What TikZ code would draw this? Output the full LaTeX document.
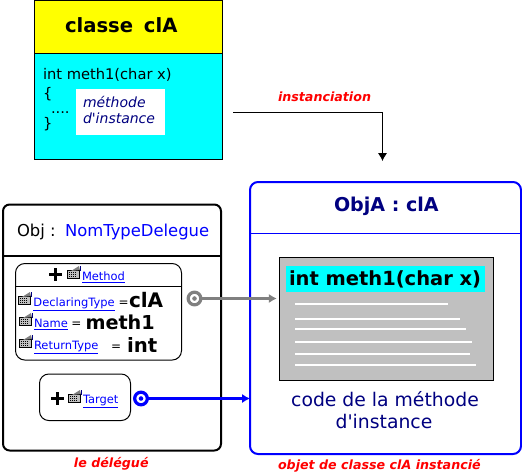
\documentclass[tikz,border=0pt]{standalone}
\usepackage{fontspec}
\setmainfont{DejaVu Sans}[Ligatures=TeXOff]
\usetikzlibrary{arrows.meta}
\definecolor{navyc}{HTML}{000080}
\definecolor{greyc}{HTML}{808080}
\definecolor{silverc}{HTML}{C0C0C0}
\definecolor{cyanc}{HTML}{00FFFF}
\definecolor{yellowc}{HTML}{FFFF00}
\definecolor{bluec}{HTML}{0000FF}
\definecolor{redc}{HTML}{FF0000}
\newcommand{\fs}[1]{\fontsize{#1}{#1}\selectfont}
\tikzset{
  x=0.75pt,y=-0.75pt,outer sep=0pt,
  lbl/.style={inner sep=0pt,anchor=base west,font=\fs{#1}},
  lblc/.style={inner sep=0pt,anchor=base,font=\fs{#1}},
  lnk/.style={inner sep=0pt,anchor=base west,text=bluec,font=\fs{8.6}},
  boldtxt/.style={inner sep=0pt,anchor=base west,font=\fs{#1}\bfseries},
  redcap/.style={inner sep=0pt,anchor=base west,text=redc,font=\fs{#1}\bfseries\itshape},
  whiteline/.style={draw=white,line width=1pt},
  frameblack/.style={draw=black,line width=1.5pt,rounded corners=5pt},
  smallbox/.style={draw=black,line width=0.75pt,rounded corners=7pt},
  plusmark/.pic={\draw[line width=2.2pt] (-6.5,0) -- (6.5,0) (0,-6.5) -- (0,6.5);},
  iconmark/.pic={
    \fill[silverc] (0.5,4) rectangle (12,12);
    \draw[black,line width=0.75pt] (0.5,4) rectangle (12,12);
    \draw[black,line width=0.5pt,dash pattern=on 0.75pt off 0.75pt] (2,6) -- (10,6) (2,8) -- (10,8) (2,10) -- (10,10);
    \fill[greyc] (4,5) -- (12,0) -- (13,4) -- cycle;
    \fill[navyc] (12.5,0) rectangle (14,5);
  },
  conn/.style={line width=#1,-{Latex[length=6pt,width=7pt]}},
  ringmark/.style={circle,draw=#1,line width=2.4pt,minimum size=9.5pt,inner sep=0pt,
    path picture={\fill[#1] (path picture bounding box.center) circle (1.7pt);}},
}
\begin{document}
\begin{tikzpicture}
\useasboundingbox (0,0) rectangle (522,472);
% class box
\node[draw=black,fill=yellowc,line width=0.75pt,minimum width=141pt,minimum height=39.75pt,inner sep=0pt,anchor=north west] (head) at (34.5,0) {};
\node[draw=black,fill=cyanc,line width=0.75pt,minimum width=141pt,minimum height=79.5pt,inner sep=0pt,anchor=north west] (body) at (34.5,53) {};
\node[boldtxt=14.7] (ctitle) at (65,32) {classe\hspace{0.55em}clA};
\node[lbl=11] (csig) at (43,79) {int meth1(char x)};
\node[lbl=11] (copen) at (43,98) {\{};
\node[lbl=11] (cdots) at (51,113) {....};
\node[lbl=11] (cclose) at (43,128) {\}};
\node[fill=white,minimum width=66.75pt,minimum height=34.5pt,inner sep=0pt,anchor=north west] (mbox) at (76,89) {};
\node[lbl=10.5,text=navyc,font=\fs{10.5}\itshape] (m1) at (83,107) {méthode};
\node[lbl=10.5,text=navyc,font=\fs{10.5}\itshape] (m2) at (83,123) {d'instance};
% instanciation
\coordinate (istart) at (233,112.5);
\coordinate (iend) at (382.5,161);
\node[redcap=9.5] (ilabel) at (278,101) {instanciation};
% delegate frame
\node[frameblack,minimum width=163.5pt,minimum height=184.5pt,inner sep=0pt,anchor=north west] (dframe) at (3,204.5) {};
\draw[line width=1.5pt] (3,256) -- (221,256);
\node[lbl=12.3] (dobj) at (17,236) {Obj :};
\node[lbl=12.3,text=bluec] (dtype) at (65,236) {NomTypeDelegue};
% method box
\node[smallbox,minimum width=124.5pt,minimum height=72.4pt,inner sep=0pt,anchor=north west] (mframe) at (15.5,263.5) {};
\draw[line width=0.75pt] (15.5,286.5) -- (181.5,286.5);
\pic at (55.5,274.5) {plusmark};
\pic at (67,266) {iconmark};
\node[lnk] (lmethod) at (82,280) {\underline{Method}};
\pic at (18,292) {iconmark};
\node[lnk] (ldecl) at (33.5,306) {\underline{DeclaringType}};
\node[lbl=9] (eq1) at (118.5,306) {=};
\node[boldtxt=15] (vcla) at (129,307) {clA};
\pic at (19,313) {iconmark};
\node[lnk] (lname) at (34,327) {\underline{Name}};
\node[lbl=9] (eq2) at (71.5,327) {=};
\node[boldtxt=14.4] (vmeth) at (85.5,329) {meth1};
\pic at (19,335) {iconmark};
\node[lnk] (lret) at (34,349) {\underline{ReturnType}};
\node[lbl=9] (eq3) at (111,350) {=};
\node[boldtxt=14.8] (vint) at (127,352) {int};
% target box
\node[smallbox,minimum width=68.25pt,minimum height=34.9pt,inner sep=0pt,anchor=north west] (tframe) at (39.5,374) {};
\pic at (57.5,398.5) {plusmark};
\pic at (68,390) {iconmark};
\node[lnk] (ltarget) at (83,403) {\underline{Target}};
\node[ringmark=greyc] (gring) at (194.5,298.5) {};
\node[ringmark=bluec] (bring) at (141,398.5) {};
\node[redcap=9.5] (cdel) at (74,467) {le délégué};
% object frame
\node[draw=bluec,line width=1.5pt,rounded corners=6pt,minimum width=203.25pt,minimum height=204pt,inner sep=0pt,anchor=north west] (oframe) at (250,182) {};
\draw[bluec,line width=0.75pt] (250,233.5) -- (521,233.5);
\node[boldtxt=14.3,text=navyc] (otitle) at (334,211) {ObjA : clA};
\node[draw=black,fill=silverc,line width=0.75pt,minimum width=160.5pt,minimum height=92.25pt,inner sep=0pt,anchor=north west] (code) at (279.5,257) {};
\node[fill=cyanc,minimum width=149.25pt,minimum height=19.5pt,inner sep=0pt,anchor=north west] (chead) at (286,266) {};
\node[boldtxt=14.6] (csig2) at (289,285) {int meth1(char x)};
\draw[whiteline] (295,304) -- (448,304);
\draw[whiteline] (295,319) -- (460,319);
\draw[whiteline] (295,329) -- (466,329);
\draw[whiteline] (295,342) -- (472,342);
\draw[whiteline] (295,354) -- (470,354);
\draw[whiteline] (295,365) -- (476,365);
\node[lblc=14.1,text=navyc] (ccap1) at (385,406) {code de la méthode};
\node[lblc=14.1,text=navyc] (ccap2) at (384,428) {d'instance};
\node[redcap=9.5] (ocap) at (278,469) {objet de classe clA instancié};
% connectors
\draw[line width=0.75pt,-{Latex[length=6pt,width=7pt]}] (istart) -- (istart -| iend) -- (iend);
\draw[greyc,conn=2.2pt,shorten >=2pt] (gring) -- (gring -| code.west);
\draw[bluec,conn=2.2pt] (bring) -- (bring -| oframe.west);
\end{tikzpicture}
\end{document}
